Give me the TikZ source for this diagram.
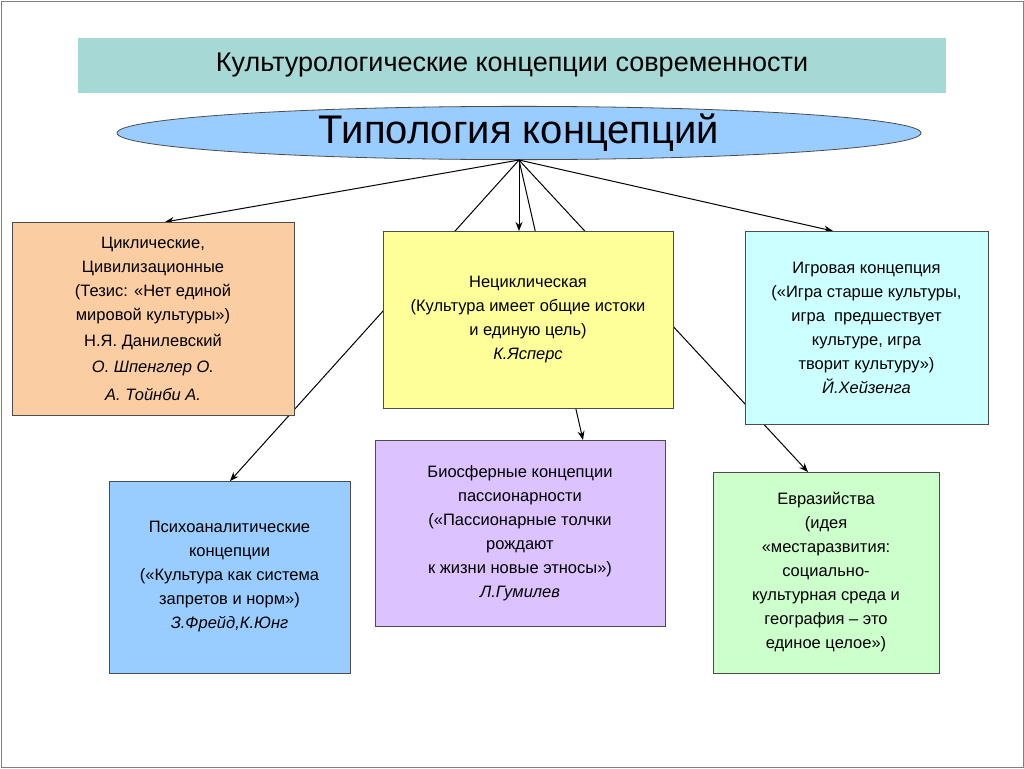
\documentclass[tikz,border=0pt]{standalone}
\usepackage{fontspec}
\setmainfont{Liberation Sans}
\usetikzlibrary{shapes.geometric,calc,arrows.meta}
\definecolor{titlec}{HTML}{A6D9D6}
\definecolor{ellc}{HTML}{99CCFF}
\definecolor{orc}{HTML}{FACDA2}
\definecolor{yelc}{HTML}{FFFF99}
\definecolor{cyc}{HTML}{CCFFFF}
\definecolor{bluc}{HTML}{99CCFF}
\definecolor{lavc}{HTML}{DCC3FF}
\definecolor{grc}{HTML}{CCFFCC}
\tikzset{
  box/.style={draw=black!70, line width=0.8pt, align=center, inner sep=0pt,
    font=\fontsize{16.5}{24}\selectfont},
  conn/.style={line width=1pt, draw=black},
  arr/.style={conn, -{Stealth[length=9pt,width=7pt]}}
}
\begin{document}
\begin{tikzpicture}[x=1pt,y=-1pt]
\useasboundingbox (0,0) rectangle (1024,768);
\fill[white] (0,0) rectangle (1024,768);
\draw[black!50, line width=0.8pt] (1,1) rectangle (1023,767);
\node[fill=titlec, minimum width=868pt, minimum height=55pt, inner sep=0pt,
  font=\fontsize{27}{30}\selectfont] (title) at (512,65.5) {Культурологические концепции современности};
\node[ellipse, draw=black!70, line width=0.8pt, fill=ellc, minimum width=804pt, minimum height=50pt,
  inner sep=0pt, font=\fontsize{40}{44}\selectfont] (ell) at (519,133) {Типология концепций};
\coordinate (e) at (ell.south);
\path (153,318.5) coordinate (c1) (528,319.5) coordinate (c2) (866.5,327.5) coordinate (c3)
      (229.5,577) coordinate (c4) (520,533) coordinate (c5) (826,572.5) coordinate (c6);
\coordinate (t1) at (165,222);
\coordinate (t2) at (519,231);
\coordinate (t3) at (833,231);
\coordinate (t4) at (230,481);
\coordinate (t5) at (583,440);
\coordinate (t6) at (808,472);
\draw[arr] (e) -- (t1);
\draw[arr] (e) -- (t3);
\draw[arr] (e) -- (t4);
\draw[arr] (e) -- (t5);
\draw[arr] (e) -- (t6);
\node[box, fill=orc, minimum width=282pt, minimum height=193pt] (b1) at (c1)
 {Циклические,\\Цивилизационные\\(Тезис: «Нет единой\\мировой культуры»)\\[2pt]Н.Я. Данилевский\\[2pt]\itshape О. Шпенглер О.\\[4pt]\itshape А. Тойнби А.};
\node[box, fill=yelc, minimum width=290pt, minimum height=177pt] (b2) at (c2)
 {Нециклическая\\(Культура имеет общие истоки\\и единую цель)\\\itshape К.Ясперс};
\draw[arr] (e) -- (t2);
\node[box, fill=cyc, minimum width=243pt, minimum height=193pt] (b3) at (c3)
 {Игровая концепция\\(«Игра старше культуры,\\игра\ \ предшествует\\культуре, игра\\творит культуру»)\\\itshape Й.Хейзенга};
\node[box, fill=bluc, minimum width=241pt, minimum height=192pt] (b4) at (c4)
 {Психоаналитические\\концепции\\(«Культура как система\\запретов и норм»)\\\itshape З.Фрейд,К.Юнг};
\node[box, fill=lavc, minimum width=290pt, minimum height=186pt] (b5) at (c5)
 {Биосферные концепции\\пассионарности\\(«Пассионарные толчки\\рождают\\к жизни новые этносы»)\\\itshape Л.Гумилев};
\node[box, fill=grc, minimum width=226pt, minimum height=201pt] (b6) at (c6)
 {Евразийства\\(идея\\«местаразвития:\\социально-\\культурная среда и\\география – это\\единое целое»)};
\end{tikzpicture}
\end{document}
